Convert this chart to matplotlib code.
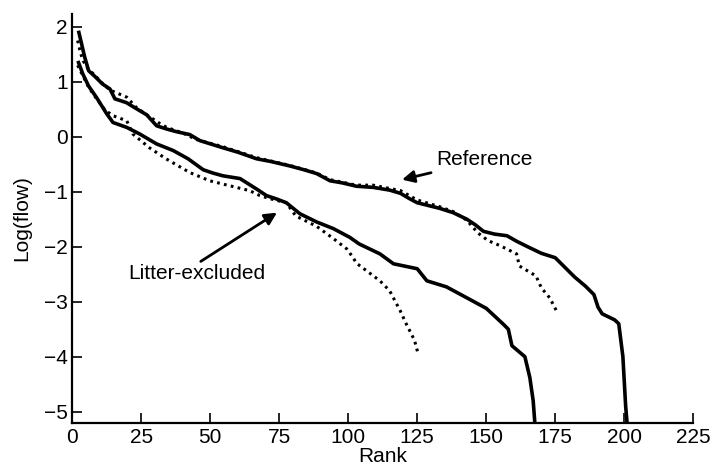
import matplotlib
matplotlib.use("Agg")
import matplotlib.pyplot as plt

plt.rcParams['font.family'] = ['Liberation Sans', 'DejaVu Sans']

# Reference (solid)
ref_solid_rank = [2.3, 4.6, 6, 8.2, 11, 13.7, 15.5, 19.7, 23.3, 27, 30.6, 34.3, 38, 42.6, 46.3,
                  54.6, 60, 66.8, 72, 78.8, 84, 88.6, 93.4, 98, 103, 109, 115, 119, 122, 125,
                  129, 133, 138, 143, 146, 149, 153, 157.5, 161, 165, 170, 175, 178, 182, 186,
                  189, 190.5, 192, 196.5, 198, 199.5, 200.5, 201]
ref_solid_val = [1.93, 1.44, 1.2, 1.1, 0.96, 0.87, 0.69, 0.62, 0.51, 0.4, 0.2, 0.14, 0.09, 0.04, -0.07,
                 -0.2, -0.28, -0.4, -0.45, -0.53, -0.6, -0.67, -0.8, -0.84, -0.9, -0.92, -0.97, -1.03, -1.12, -1.2,
                 -1.25, -1.3, -1.38, -1.5, -1.6, -1.72, -1.77, -1.8, -1.9, -2.0, -2.12, -2.2, -2.35, -2.55, -2.72,
                 -2.87, -3.1, -3.22, -3.33, -3.4, -4.0, -4.9, -5.2]

# Reference (dotted)
ref_dot_rank = [2, 3, 4, 5.7, 8.2, 11, 13.7, 19.8, 23.3, 27, 31.8, 34.3, 40, 45, 54.6, 66.8,
                78.8, 88.6, 93.4, 103, 109, 114, 119, 125, 133, 138, 143, 147, 150.7, 155, 161,
                162, 168, 170, 173, 176]
ref_dot_val = [1.75, 1.53, 1.38, 1.24, 1.12, 0.97, 0.85, 0.72, 0.53, 0.4, 0.24, 0.17, 0.07, -0.05, -0.18, -0.38,
               -0.52, -0.66, -0.78, -0.88, -0.88, -0.93, -0.98, -1.15, -1.27, -1.36, -1.52, -1.75, -1.89, -1.98, -2.13,
               -2.35, -2.53, -2.75, -2.93, -3.22]

# Litter-excluded (solid)
lit_solid_rank = [2.1, 3.9, 6, 8.9, 12.5, 14.8, 19.8, 24.5, 30.6, 36.6, 42, 47.5, 51, 54.6, 60.8,
                  66.8, 70.4, 74, 77.6, 82.5, 88.6, 94.6, 100.6, 104, 111.5, 116.4, 125, 128.5,
                  135.6, 143, 150, 156, 158, 159.3, 164, 165.8, 167, 167.6]
lit_solid_val = [1.38, 1.14, 0.92, 0.71, 0.42, 0.26, 0.17, 0.05, -0.13, -0.25, -0.4, -0.6, -0.66, -0.71, -0.76,
                 -0.95, -1.07, -1.13, -1.2, -1.4, -1.55, -1.67, -1.83, -1.95, -2.13, -2.31, -2.4, -2.62,
                 -2.73, -2.93, -3.12, -3.4, -3.5, -3.8, -4.0, -4.38, -4.8, -5.2]

# Litter-excluded (dotted)
lit_dot_rank = [2, 4, 6, 9, 12, 15, 19.8, 22, 28, 34, 42.6, 49.8, 57, 64.3, 68, 72, 77.6, 81,
                88.6, 94.6, 99.5, 101.8, 103, 107, 111.5, 115, 118.8, 121, 124, 125.4]
lit_dot_val = [1.3, 1.1, 0.9, 0.68, 0.48, 0.38, 0.29, 0.05, -0.2, -0.4, -0.65, -0.8, -0.89, -0.98, -1.07, -1.13, -1.2, -1.44,
               -1.63, -1.85, -2.04, -2.2, -2.3, -2.45, -2.62, -2.8, -3.16, -3.4, -3.7, -3.96]

x_ticks = [0, 25, 50, 75, 100, 125, 150, 175, 200, 225]
y_ticks = [-5, -4, -3, -2, -1, 0, 1, 2]

FS = 15

fig = plt.figure(figsize=(7.14, 4.72), dpi=100)
ax = fig.add_axes([0.101, 0.1045, 0.870, 0.8655])

dot_style = dict(color='black', lw=2.2, linestyle=(0, (0.9, 1.4)))
sol_style = dict(color='black', lw=2.6, solid_joinstyle='round', solid_capstyle='butt')

ax.plot(ref_dot_rank, ref_dot_val, **dot_style)
ax.plot(lit_dot_rank, lit_dot_val, **dot_style)
ax.plot(ref_solid_rank, ref_solid_val, **sol_style)
ax.plot(lit_solid_rank, lit_solid_val, **sol_style)

ax.set_xlim(0, 225)
ax.set_ylim(-5.2, 2.23)
ax.set_xticks(x_ticks)
ax.set_yticks(y_ticks)
ax.set_yticklabels(['\u2212' + str(-v) if v < 0 else str(v) for v in y_ticks])
ax.tick_params(direction='in', length=7, width=1.2, labelsize=FS, color='black')
ax.tick_params(axis='x', pad=4)
ax.tick_params(axis='y', pad=3)
for s in ['top', 'right']:
    ax.spines[s].set_visible(False)
for s in ['left', 'bottom']:
    ax.spines[s].set_linewidth(1.6)

ax.set_xlabel('Rank', fontsize=FS, labelpad=0)
ax.set_ylabel('Log(flow)', fontsize=FS, labelpad=9)

ax.annotate('Reference', xy=(119.5, -0.78), xytext=(132, -0.42), fontsize=FS,
            va='center', ha='left',
            arrowprops=dict(arrowstyle='-|>', color='black', lw=2.0, mutation_scale=18,
                            shrinkA=2, shrinkB=0))
ax.annotate('Litter-excluded', xy=(74.2, -1.38), xytext=(20.2, -2.49), fontsize=FS,
            va='center', ha='left',
            arrowprops=dict(arrowstyle='-|>', color='black', lw=2.0, mutation_scale=18,
                            shrinkA=0, shrinkB=0, relpos=(0.5, 1.0)))

fig.savefig('out.png', dpi=100)
